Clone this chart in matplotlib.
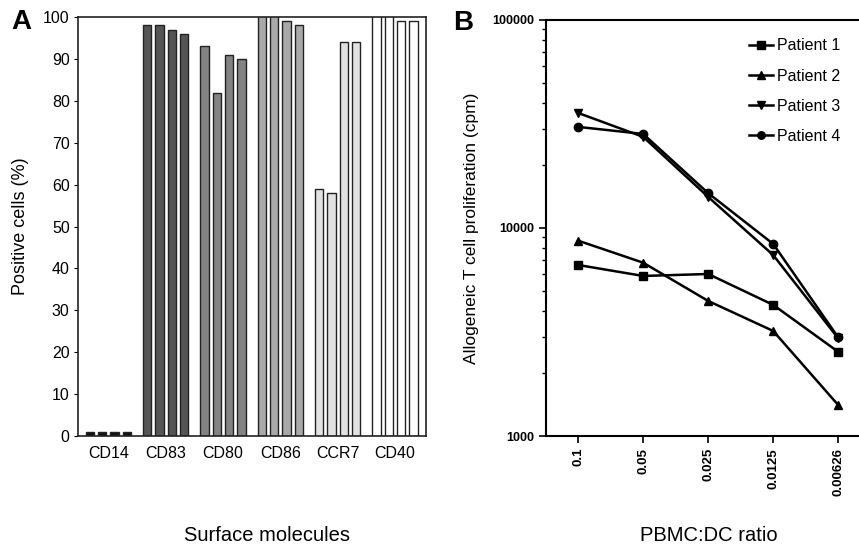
import numpy as np
import matplotlib.pyplot as plt

# Panel A: surface molecule expression (4 patients per marker)
markers = ['CD14', 'CD83', 'CD80', 'CD86', 'CCR7', 'CD40']
positive = [
    [1, 1, 1, 1],
    [98, 98, 97, 96],
    [93, 82, 91, 90],
    [101, 101, 99, 98],
    [59, 58, 94, 94],
    [101, 101, 99, 99],
]
bar_colors = ['#111111', '#555555', '#838383', '#a9a9a9', '#e2e2e2', '#ffffff']

# Panel B: allogeneic T cell proliferation
ratios = ['0.1', '0.05', '0.025', '0.0125', '0.00626']
patient1 = [6640, 5880, 6010, 4270, 2540]
patient2 = [8690, 6810, 4460, 3200, 1410]
patient3 = [35700, 27400, 14100, 7410, 2950]
patient4 = [30600, 28300, 14700, 8380, 2980]
patients = ['Patient 1', 'Patient 2', 'Patient 3', 'Patient 4']
patient_markers = ['s', '^', 'v', 'o']

sans = ['Liberation Sans', 'DejaVu Sans']

fig = plt.figure(figsize=(8.59, 5.52), dpi=100)
ax1 = fig.add_axes([0.0908, 0.210, 0.405, 0.759])
ax2 = fig.add_axes([0.636, 0.210, 0.364, 0.754])

# ---- Panel A ----
pitch = 0.215
width = 0.148
for i, vals in enumerate(positive):
    for j, v in enumerate(vals):
        ax1.bar(i + (j - 1.5) * pitch, v, width=width, color=bar_colors[i],
                edgecolor='#222222', linewidth=1.0, zorder=2)
ax1.set_xlim(-0.53, 5.54)
ax1.set_ylim(0, 100)
ax1.set_yticks(np.arange(0, 101, 10))
ax1.set_xticks(range(len(markers)))
ax1.set_xticklabels(markers, family=sans, fontsize=11.5)
for lab in ax1.get_yticklabels():
    lab.set_family(sans)
    lab.set_fontsize(11.5)
ax1.tick_params(axis='x', length=0, pad=7)
ax1.tick_params(axis='y', length=3, direction='out', pad=3)
for s in ax1.spines.values():
    s.set_linewidth(1.2)
    s.set_color('#222222')
ax1.set_ylabel('Positive cells (%)', family=sans, fontsize=13, labelpad=10)
fig.text(0.311, 0.02, 'Surface molecules', family=sans, fontsize=14.5, ha='center')
fig.text(0.013, 0.948, 'A', fontsize=20, fontweight='bold', family=sans)

# ---- Panel B ----
x = np.arange(len(ratios))
for vals, lab, m in zip([patient1, patient2, patient3, patient4], patients, patient_markers):
    ax2.plot(x, vals, color='black', linewidth=1.8, marker=m, markersize=6, label=lab)
ax2.set_yscale('log')
ax2.set_ylim(1000, 100000)
ax2.set_xlim(-0.49, 4.32)
ax2.set_xticks(x)
ax2.set_xticklabels(ratios, rotation=90, fontsize=9.5, fontweight='bold', family=sans)
ax2.set_yticks([1000, 10000, 100000])
ax2.set_yticklabels(['1000', '10000', '100000'], fontsize=9, fontweight='bold', family=sans)
ax2.tick_params(axis='both', which='major', length=5, width=1.2)
ax2.tick_params(axis='y', which='minor', length=3, width=1)
ax2.spines['right'].set_visible(False)
for s in ['left', 'top', 'bottom']:
    ax2.spines[s].set_linewidth(1.5)
ax2.set_ylabel('Allogeneic T cell proliferation (cpm)', family=sans, fontsize=12.5, labelpad=10)
fig.text(0.825, 0.02, 'PBMC:DC ratio', family=sans, fontsize=14.5, ha='center')
fig.text(0.527, 0.945, 'B', fontsize=20, fontweight='bold', family=sans)
ax2.legend(loc='upper right', bbox_to_anchor=(0.985, 0.99), frameon=False,
           prop={'family': sans, 'size': 11.5}, labelspacing=0.95,
           handlelength=1.5, handletextpad=0.25, markerscale=0.9)

fig.savefig('out.png', dpi=100)
